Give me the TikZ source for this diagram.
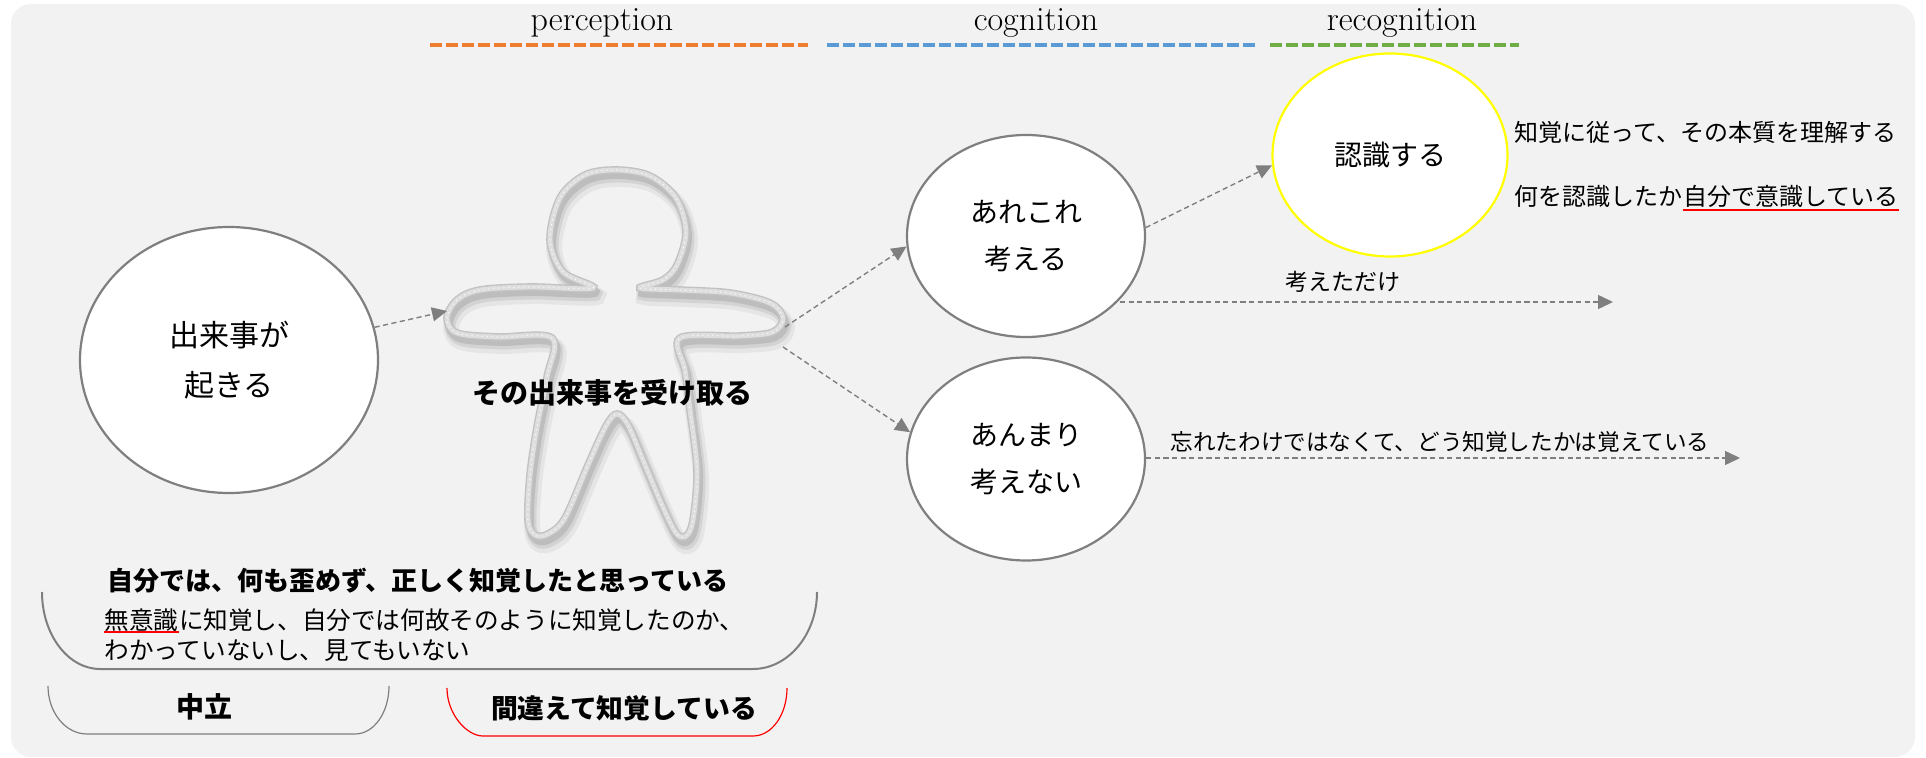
\documentclass[tikz,border=0pt]{standalone}
\usepackage{fontspec}
\newfontfamily\jp{Noto Sans CJK JP}
\usetikzlibrary{shapes.geometric,arrows.meta}

\definecolor{bgfill}{HTML}{F2F2F2}
\definecolor{linegray}{HTML}{7F7F7F}
\definecolor{percorange}{HTML}{ED7D31}
\definecolor{cogblue}{HTML}{5B9BD5}
\definecolor{recgreen}{HTML}{70AD47}
\definecolor{markred}{HTML}{FF0000}
\definecolor{markyellow}{HTML}{FFFF00}

% outline of the little person
\def\personpath{plot[smooth cycle, tension=0.55] coordinates {
  (593,288) (563,272) (550,240) (560,198) (585,175) (617,170) (650,176)
  (676,198) (686,232) (677,265) (663,280) (640,288) (680,290) (730,293)
  (770,303) (783,318) (773,332) (740,336) (680,338) (685,370) (690,410)
  (697,470) (693,520) (686,536) (676,533) (662,505) (643,460) (628,425)
  (617,414) (606,426) (588,465) (565,518) (548,534) (535,535) (528,520)
  (530,475) (537,427) (547,377) (552,338) (497,337) (457,333) (447,318)
  (457,300) (480,290) (530,287)}}

\tikzset{
  bubble/.style={ellipse, draw=linegray, line width=1.1pt, fill=white, inner sep=0pt,
    align=center, font=\jp\fontsize{14}{23.5}\selectfont},
  flow/.style={draw=linegray, line width=0.7pt, dash pattern=on 2.6pt off 1.7pt,
    -{Triangle[length=7.5pt,width=7pt]}},
  phase/.style={line width=2pt, dash pattern=on 6pt off 2pt},
  note/.style={inner sep=0pt, font=\jp\fontsize{12}{15}\selectfont},
  phaselabel/.style={anchor=base, font=\fontsize{17}{20}\selectfont},
}

\begin{document}
\begin{tikzpicture}[x=0.5pt, y=-0.5pt]
  %%%%% START %%%%%
  \useasboundingbox (0,0) rectangle (1926,758);
  \fill[bgfill, rounded corners=10pt] (11,4) rectangle (1915,757);

  % phases along the top
  \node[phaselabel] (perc) at (602,31) {perception};
  \node[phaselabel] (cog) at (1036,31) {cognition};
  \node[phaselabel] (recg) at (1402,31) {recognition};
  \draw[phase, percorange] (430,45) -- (808,45);
  \draw[phase, cogblue] (827,45) -- (1255,45);
  \draw[phase, recgreen] (1270,45) -- (1519,45);

  % what happens
  \node[bubble, minimum width=149pt, minimum height=133pt,
    font=\jp\fontsize{15}{25}\selectfont] (event) at (229,360) {出来事が\\起きる};

  % the person, with a soft shadow
  \draw[black, opacity=0.05, line width=8pt, shift={(4,9)}] \personpath;
  \draw[black, opacity=0.08, line width=5.5pt, shift={(3,7)}] \personpath;
  \draw[black, opacity=0.10, line width=4pt, shift={(2,5)}] \personpath;
  \draw[black!24, line width=3.8pt] \personpath;
  \draw[black!13, line width=2.4pt] \personpath;
  \draw[white, line width=0.5pt, dotted] \personpath;
  \coordinate (handL) at (447,311);
  \coordinate (handR) at (785,327);
  \coordinate (handRlow) at (783,347);
  \node[font=\jp\bfseries\fontsize{14}{16}\selectfont] (receive) at (612,393) {その出来事を受け取る};

  \draw[flow] (event) -- (handL);

  % thinking or not
  \node[bubble, minimum width=119pt, minimum height=101pt] (think) at (1026,236) {あれこれ\\考える};
  \node[bubble, minimum width=119pt, minimum height=101.5pt] (nothink) at (1026,459) {あんまり\\考えない};
  \node[bubble, draw=markyellow, minimum width=117.5pt, minimum height=101.5pt] (recog) at (1390,155) {認識する};

  \draw[flow] (handR) -- (think.185);
  \draw[flow] (handRlow) -- (nothink.167);
  \draw[flow] (think.4) -- (recog.185);

  \coordinate (thinkEnd) at (1613,302);
  \draw[flow] (thinkEnd -| think.326) -- (thinkEnd);
  \node[note, font=\jp\fontsize{11.5}{14}\selectfont] (justthink) at (1343,282) {考えただけ};

  \coordinate (forgetEnd) at (1740,458);
  \draw[flow] (forgetEnd -| nothink.east) -- (forgetEnd);
  \node[note, font=\jp\fontsize{11.3}{14}\selectfont] (forget) at (1440,442) {忘れたわけではなくて、どう知覚したかは覚えている};

  % notes on recognition
  \node[note, anchor=base west] (essence) at (1514,142) {知覚に従って、その本質を理解する};
  \node[note, anchor=base west] (aware) at (1514,206) {何を認識したか};
  \node[note, anchor=base west] (awareU) at (aware.base east) {自分で意識している};
  \draw[markred, line width=1pt] ([yshift=-2pt]awareU.base west) -- ([yshift=-2pt]awareU.base east);

  % what one believes about perceiving
  \node[note, anchor=base west, font=\jp\bfseries\fontsize{13}{16}\selectfont] (selfview) at (107,590)
    {自分では、何も歪めず、正しく知覚したと思っている};
  \node[note, anchor=base west, font=\jp\fontsize{12.3}{15}\selectfont] (unaware) at (104,629) {無意識};
  \node[note, anchor=base west, font=\jp\fontsize{12.3}{15}\selectfont] (unawareRest) at (unaware.base east)
    {に知覚し、自分では何故そのように知覚したのか、};
  \node[note, anchor=base west, font=\jp\fontsize{12.3}{15}\selectfont] (unseen) at (104,659)
    {わかっていないし、見てもいない};
  \draw[markred, line width=1pt] ([yshift=-1.5pt]unaware.base west) -- ([yshift=-1.5pt]unaware.base east);

  \draw[linegray, line width=1pt] (42,592) .. controls (42,634.5) and (68,669) .. (100,669)
    -- (753,669) .. controls (788,669) and (817,634.5) .. (817,592);

  % neutral / mistaken
  \draw[linegray, line width=0.6pt] (48,686) .. controls (48,712.5) and (65.5,734) .. (87,734)
    -- (355,734) .. controls (374,734) and (389,712.5) .. (389,686);
  \draw[markred, line width=0.6pt] (447,688) .. controls (447,714.5) and (467,736) .. (483,736)
    -- (753,736) .. controls (772,736) and (787,714.5) .. (787,688);
  \node[font=\jp\bfseries\fontsize{14}{16}\selectfont] (neutral) at (204,707) {中立};
  \node[font=\jp\bfseries\fontsize{13.4}{16}\selectfont] (mistaken) at (624,708) {間違えて知覚している};
  %%%%% END %%%%%
\end{tikzpicture}
\end{document}
